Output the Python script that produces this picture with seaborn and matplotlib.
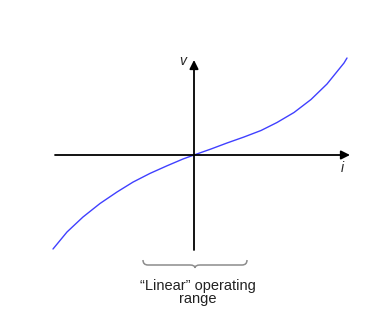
import numpy as np
import pandas as pd
import matplotlib
matplotlib.use("Agg")
import matplotlib.pyplot as plt
import seaborn as sns
from matplotlib.path import Path
from matplotlib.patches import PathPatch

# Curve (current i vs voltage v, arbitrary units)
i_vals = [-1.41, -1.27, -1.11, -0.94, -0.77, -0.61, -0.44, -0.27, -0.11, 0.0,
          0.17, 0.33, 0.50, 0.67, 0.83, 1.00, 1.17, 1.33, 1.50, 1.53]
v_vals = [-0.94, -0.77, -0.62, -0.485, -0.37, -0.271, -0.184, -0.108, -0.04, 0.0,
          0.06, 0.12, 0.18, 0.245, 0.325, 0.425, 0.555, 0.71, 0.92, 0.97]
x_label = "i"
y_label = "v"
range_label = "\u201cLinear\u201d operating\nrange"

df = pd.DataFrame({"i": i_vals, "v": v_vals})

sns.set_style("white")
plt.rcParams["font.family"] = ["Liberation Sans", "DejaVu Sans"]

fig = plt.figure(figsize=(3.89, 3.21), dpi=100)
ax = fig.add_axes([0, 0, 1, 1])

# axes with arrows
ax.annotate("", xy=(1.56, 0), xytext=(-1.39, 0),
            arrowprops=dict(arrowstyle="-|>", color="black", lw=1.3,
                            mutation_scale=13, shrinkA=0, shrinkB=0))
ax.annotate("", xy=(0, 0.95), xytext=(0, -0.95),
            arrowprops=dict(arrowstyle="-|>", color="black", lw=1.3,
                            mutation_scale=13, shrinkA=0, shrinkB=0))

sns.lineplot(data=df, x="i", y="v", sort=False, ax=ax, color="#4040ff", lw=1.0)
ax.set_xlim(-1.94, 1.95)
ax.set_ylim(-1.66, 1.55)
ax.axis("off")

ax.text(-0.11, 0.94, y_label, fontsize=10, style="italic", ha="center", va="center")
ax.text(1.48, -0.13, x_label, fontsize=10, style="italic", ha="center", va="center")

# curly brace
x0, x1, xc = -0.51, 0.53, 0.01
ye, ym, yt = -1.05, -1.10, -1.13
r = 0.05
verts = [(x0, ye), (x0, ym), (x0 + r, ym), (xc - r, ym), (xc, ym), (xc, yt),
         (xc, ym), (xc + r, ym), (x1 - r, ym), (x1, ym), (x1, ye)]
codes = [Path.MOVETO, Path.CURVE3, Path.CURVE3, Path.LINETO, Path.CURVE3, Path.CURVE3,
         Path.CURVE3, Path.CURVE3, Path.LINETO, Path.CURVE3, Path.CURVE3]
ax.add_patch(PathPatch(Path(verts, codes), fill=False, edgecolor="#8c8c8c", lw=1.1))

ax.text(0.035, -1.375, range_label, fontsize=10.5, ha="center", va="center",
        multialignment="center", color="#222222", linespacing=0.88)

fig.savefig("out.png", dpi=100)
